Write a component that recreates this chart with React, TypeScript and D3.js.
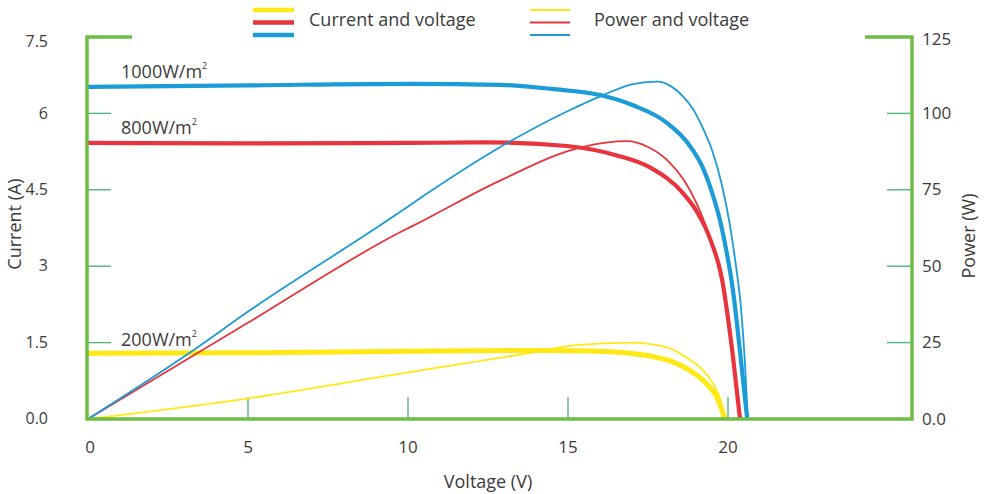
import React from "react";
import * as d3 from "d3";

// Axis ticks
const voltageTicks = [0, 5, 10, 15, 20];
const currentTicks = [0, 1.5, 3, 4.5, 6, 7.5];
const powerTicks = [0, 25, 50, 75, 100, 125];
const currentTickLabels = ["0.0", "1.5", "3", "4.5", "6", "7.5"];
const powerTickLabels = ["0.0", "25", "50", "75", "100", "125"];
const voltageTickLabels = ["0", "5", "10", "15", "20"];

// I–V curves: [voltage V, current A]
const current1000: [number, number][] = [
  [0, 6.52], [5, 6.55], [10, 6.58], [12.9, 6.56], [14.5, 6.48], [16, 6.36],
  [17.03, 6.16], [18.1, 5.81], [18.9, 5.28], [19.2, 4.95], [19.5, 4.45],
  [19.75, 3.9], [19.95, 3.3], [20.15, 2.55], [20.38, 1.3], [20.6, 0],
];
const current800: [number, number][] = [
  [0, 5.42], [5, 5.41], [10, 5.42], [12.5, 5.43], [14.97, 5.36], [16.5, 5.18],
  [17.56, 4.94], [18.6, 4.43], [19.0, 4.1], [19.3, 3.75], [19.55, 3.35],
  [19.7, 3.05], [19.82, 2.72], [19.95, 2.2], [20.15, 1.25], [20.375, 0],
];
const current200: [number, number][] = [
  [0, 1.29], [5, 1.3], [10, 1.33], [12, 1.34], [14.13, 1.347], [15.69, 1.333],
  [17.25, 1.268], [18.29, 1.117], [18.81, 0.953], [19.33, 0.692], [19.65, 0.429],
  [19.85, 0.102], [19.9, 0],
];

// P–V curves: [voltage V, power W]
const power1000: [number, number][] = [
  [0, 0], [3.28, 22.4], [4.97, 34.9], [9.75, 67.7], [10.375, 72.2], [13.1, 90.3],
  [15, 100.8], [16.1, 106], [17.03, 109.6], [17.8, 110.4], [18.2, 109],
  [18.6, 105.5], [18.9, 101.5], [19.2, 95.5], [19.5, 88], [19.8, 77],
  [20.05, 64], [20.25, 50], [20.4, 37], [20.52, 20], [20.62, 0],
];
const power800: [number, number][] = [
  [0, 0], [3.28, 20.7], [4.97, 31.3], [9.75, 61.1], [10.375, 64.4], [12.875, 78],
  [15.44, 89], [16.84, 90.9], [17.5, 89], [18.1, 84.7], [18.6, 78.5], [19.0, 71],
  [19.3, 63.5], [19.55, 55.8], [19.7, 50.8], [19.82, 45.3], [19.95, 36.7],
  [20.15, 20.8], [20.375, 0],
];
const power200: [number, number][] = [
  [0, 0], [4.97, 6.7], [10.375, 15.9], [14.13, 22.2], [15.17, 24.1], [16.94, 25.0],
  [18.08, 23.5], [18.6, 20.8], [19.13, 16.8], [19.54, 11.5], [19.8, 5.0], [19.9, 0],
];

const irradianceLabels = ["1000W/m", "800W/m", "200W/m"];
const legendLabels = ["Current and voltage", "Power and voltage"];

const BLUE = "#1b9bd7";
const RED = "#e8343d";
const YELLOW = "#ffe813";
const FRAME = "#6dbd45";
const TICK = "#4fb57c";
const TEXT = "#3b3b3b";
const FONT = "'Open Sans', 'DejaVu Sans', sans-serif";

const W = 984;
const H = 494;

export default function App() {
  const x = d3.scaleLinear().domain([0, 25.75]).range([88, 912]);
  const yI = d3.scaleLinear().domain([0, 7.5]).range([419, 37]);
  const yP = d3.scaleLinear().domain([0, 125]).range([419, 37]);

  const iLine = d3
    .line<[number, number]>()
    .x((d) => x(d[0]))
    .y((d) => yI(d[1]))
    .curve(d3.curveMonotoneX);
  const pLine = d3
    .line<[number, number]>()
    .x((d) => x(d[0]))
    .y((d) => yP(d[1]))
    .curve(d3.curveMonotoneX);

  const series = [
    { color: YELLOW, cur: current200, pow: power200, thick: 5 },
    { color: RED, cur: current800, pow: power800, thick: 4.2 },
    { color: BLUE, cur: current1000, pow: power1000, thick: 4.2 },
  ];

  const x0 = x(0) - 1;
  const x1 = x(25.75);
  const yTop = yI(7.5);
  const yBot = yI(0);

  const clampLabel = (y: number) => Math.min(Math.max(y + 1, 43), 423);

  const legendRows = [YELLOW, RED, BLUE];
  const legendY = [10, 22.5, 35];

  const labelAnchors: { text: string; y: number }[] = [
    { text: irradianceLabels[0], y: 78 },
    { text: irradianceLabels[1], y: 134 },
    { text: irradianceLabels[2], y: 346 },
  ];

  return (
    <svg
      width={W}
      height={H}
      style={{ position: "absolute", left: 0, top: 0, background: "#fff" }}
      fontFamily={FONT}
    >
      <rect width={W} height={H} fill="#fff" />

      {/* inner ticks */}
      {currentTicks.slice(1, -1).map((t) => (
        <line key={"l" + t} x1={x0} x2={x0 + 24} y1={yI(t)} y2={yI(t)} stroke={TICK} strokeWidth={1.4} />
      ))}
      {powerTicks.slice(1, -1).map((t) => (
        <line key={"r" + t} x1={x1 - 25} x2={x1} y1={yP(t)} y2={yP(t)} stroke={TICK} strokeWidth={1.4} />
      ))}
      {voltageTicks.slice(1).map((t) => (
        <line key={"b" + t} x1={x(t)} x2={x(t)} y1={yBot} y2={yBot - 22} stroke={TICK} strokeWidth={1.4} />
      ))}

      {/* current curves */}
      {series.map((s, i) => (
        <path key={"c" + i} d={iLine(s.cur) || ""} fill="none" stroke={s.color} strokeWidth={s.thick} strokeLinejoin="round" />
      ))}
      {/* power curves */}
      {series.map((s, i) => (
        <path key={"p" + i} d={pLine(s.pow) || ""} fill="none" stroke={s.color} strokeWidth={1.8} strokeLinejoin="round" />
      ))}

      {/* frame */}
      <path
        d={`M${x0 + 45},${yTop} H${x0} V${yBot} H${x1} V${yTop} H${x1 - 47}`}
        fill="none"
        stroke={FRAME}
        strokeWidth={3.5}
      />

      {/* left tick labels */}
      {currentTicks.map((t, i) => (
        <text key={"lt" + t} x={48} y={clampLabel(yI(t))} textAnchor="end" dominantBaseline="middle" fontSize={16} fill={TEXT}>
          {currentTickLabels[i]}
        </text>
      ))}
      {/* right tick labels */}
      {powerTicks.map((t, i) => (
        <text key={"rt" + t} x={922} y={clampLabel(yP(t)) - (t === 125 ? 3 : 0)} textAnchor="start" dominantBaseline="middle" fontSize={17} fill={TEXT}>
          {powerTickLabels[i]}
        </text>
      ))}
      {/* bottom tick labels */}
      {voltageTicks.map((t, i) => (
        <text key={"bt" + t} x={x(t) + (t === 0 ? 2 : 0)} y={448} textAnchor="middle" dominantBaseline="middle" fontSize={17} fill={TEXT}>
          {voltageTickLabels[i]}
        </text>
      ))}

      {/* axis titles */}
      <text transform="translate(16,224) rotate(-90)" textAnchor="middle" dominantBaseline="middle" fontSize={18} fill={TEXT}>
        Current (A)
      </text>
      <text transform="translate(970,236) rotate(-90)" textAnchor="middle" dominantBaseline="middle" fontSize={18} fill={TEXT}>
        Power (W)
      </text>
      <text x={488} y={483} textAnchor="middle" dominantBaseline="middle" fontSize={18} fill={TEXT}>
        Voltage (V)
      </text>

      {/* irradiance labels */}
      {labelAnchors.map((l) => (
        <text key={l.text} x={121} y={l.y} fontSize={18} fill={TEXT}>
          {l.text}
          <tspan fontSize={9} dy={-9}>2</tspan>
        </text>
      ))}

      {/* legend */}
      {legendRows.map((c, i) => (
        <line key={"lg1" + i} x1={253} x2={294} y1={legendY[i]} y2={legendY[i]} stroke={c} strokeWidth={4.5} />
      ))}
      {legendRows.map((c, i) => (
        <line key={"lg2" + i} x1={530} x2={570} y1={legendY[i]} y2={legendY[i]} stroke={c} strokeWidth={2} />
      ))}
      <text x={309} y={21} dominantBaseline="middle" fontSize={18} fill={TEXT}>
        {legendLabels[0]}
      </text>
      <text x={594} y={21} dominantBaseline="middle" fontSize={18} fill={TEXT}>
        {legendLabels[1]}
      </text>
    </svg>
  );
}
